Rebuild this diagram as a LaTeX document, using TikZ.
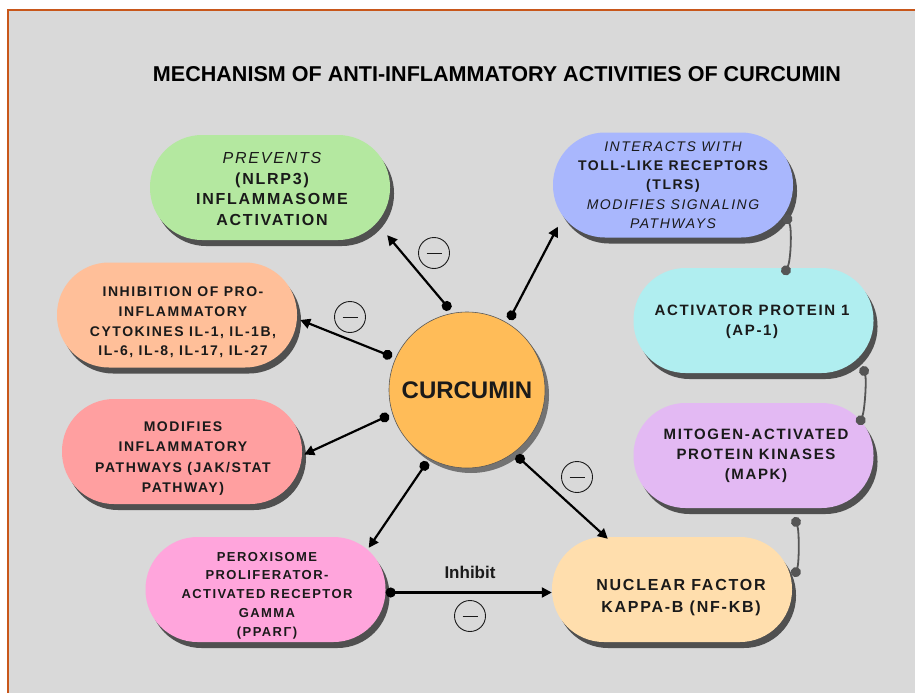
\documentclass[tikz,border=0pt]{standalone}
\usepackage{fontspec}
\usepackage{graphicx}
\setmainfont{Liberation Sans}
\newfontfamily\boxsans[LetterSpace=11]{Liberation Sans}
\usetikzlibrary{arrows.meta,shadows,calc,positioning}

\definecolor{bggray}{HTML}{D9D9D9}
\definecolor{bordercol}{HTML}{C8571B}
\definecolor{inkblack}{HTML}{1A1A1A}
\definecolor{shadowgray}{HTML}{505050}
\definecolor{cascgray}{HTML}{555555}
\definecolor{nlrpgreen}{HTML}{B4E8A0}
\definecolor{tlrblue}{HTML}{A9B7FD}
\definecolor{cytopeach}{HTML}{FFBF99}
\definecolor{jakred}{HTML}{FF9FA0}
\definecolor{pparpink}{HTML}{FFA5DC}
\definecolor{nfkbtan}{HTML}{FFDEAD}
\definecolor{mapklilac}{HTML}{E3B9F3}
\definecolor{apcyan}{HTML}{B0EEF0}
\definecolor{curcorange}{HTML}{FFBC58}

\newcommand{\bxfont}[2]{\boxsans\bfseries\fontsize{#1}{#2}\selectfont}
\newcommand{\itln}[1]{{\mdseries\itshape #1}}

\tikzset{
  pill/.style={rectangle, rounded corners=52pt, minimum width=240pt, minimum height=105pt,
    inner sep=0pt, drop shadow={shadow xshift=4pt, shadow yshift=-6pt, fill=shadowgray, opacity=1}},
  boxtxt/.style={align=center, inner sep=0pt, text=inkblack},
  curlink/.style={line width=2.2pt, draw=black, {Circle[length=10pt]}-{Triangle[length=10pt,width=10pt]}},
  cascade/.style={line width=1.8pt, draw=cascgray, {Circle[length=10pt]}-{Circle[length=10pt]}},
  minussign/.style={circle, draw=inkblack, line width=0.9pt, minimum size=31pt, inner sep=0pt,
    path picture={\draw[line width=1pt] ([xshift=-7.5pt]path picture bounding box.center)
      -- ([xshift=7.5pt]path picture bounding box.center);}}
}

\begin{document}
\begin{tikzpicture}[x=1pt,y=-1pt]
% Background and frame
\useasboundingbox (0,0) rectangle (915,693);
\fill[white] (0,0) rectangle (915,693);
\fill[bggray] (8,10) rectangle (915,693);
\draw[bordercol, line width=2pt] (915,10) -- (8,10) -- (8,693);

% Title
\node[text=black] (title) at (497,74)
  {\resizebox{688pt}{15pt}{\bfseries MECHANISM OF ANTI-INFLAMMATORY ACTIVITIES OF CURCUMIN}};

% Curcumin
\node[circle, minimum size=156pt, inner sep=0pt, outer sep=4pt, fill=curcorange,
  draw=gray!70!black, line width=0.6pt,
  drop shadow={shadow xshift=4pt, shadow yshift=-5pt, fill=gray!90!black, opacity=1},
  font=\bfseries\fontsize{24}{28}\selectfont, text=inkblack] (curc) at (467,390) {CURCUMIN};

% Left column
\node[pill, fill=nlrpgreen] (nlrp) at (270,187.5) {};
\node[boxtxt, font=\bxfont{16}{20.5}] (nlrp-t) at (272,189)
  {\itln{PREVENTS}\\(NLRP3)\\INFLAMMASOME\\ACTIVATION};

\node[pill, fill=cytopeach] (cyto) at (177,315) {};
\node[boxtxt, font=\bxfont{14}{19.7}] (cyto-t) at (183,322.5)
  {INHIBITION OF PRO-\\INFLAMMATORY\\CYTOKINES IL-1, IL-1B,\\IL-6, IL-8, IL-17, IL-27};

\node[pill, fill=jakred] (jak) at (182,451.5) {};
\node[boxtxt, font=\bxfont{14}{20.3}] (jak-t) at (183,458.5)
  {MODIFIES\\INFLAMMATORY\\PATHWAYS (JAK/STAT\\PATHWAY)};

\node[pill, fill=pparpink] (ppar) at (265.5,589.5) {};
\node[boxtxt, font=\bxfont{13}{18.8}] (ppar-t) at (267,595.5)
  {PEROXISOME\\PROLIFERATOR-\\ACTIVATED RECEPTOR\\GAMMA\\(PPARΓ)};

% Right column
\node[pill, fill=tlrblue] (tlr) at (673,185) {};
\node[boxtxt, font=\bxfont{14}{19.2}] (tlr-t) at (673,185)
  {\itln{INTERACTS WITH}\\TOLL-LIKE RECEPTORS\\(TLRS)\\\itln{MODIFIES SIGNALING}\\\itln{PATHWAYS}};

\node[pill, fill=apcyan] (ap1) at (753.5,320.5) {};
\node[boxtxt, font=\bxfont{15}{20}] (ap1-t) at (752,322)
  {ACTIVATOR PROTEIN 1\\(AP-1)};

\node[pill, fill=mapklilac] (mapk) at (753.5,455.5) {};
\node[boxtxt, font=\bxfont{15}{20}] (mapk-t) at (756,456)
  {MITOGEN-ACTIVATED\\PROTEIN KINASES\\(MAPK)};

\node[pill, fill=nfkbtan] (nfkb) at (672,589.5) {};
\node[boxtxt, font=\bxfont{16}{22}] (nfkb-t) at (681,598)
  {NUCLEAR FACTOR\\KAPPA-B (NF-KB)};

% Links from curcumin
\draw[curlink] (curc.102) -- ($(nlrp.south east)+(-3,-5)$);
\draw[curlink] (curc.59) -- ($(tlr.south west)+(5,-11)$);
\draw[curlink] (curc.156) -- ($(cyto.east)+(3,5)$);
\draw[curlink] (curc.198) -- ($(jak.east)+(2,3)$);
\draw[curlink] (curc.241) -- ($(ppar.north east)+(-17,11)$);
\draw[curlink] (curc.307) -- ($(nfkb.north west)+(56,2)$);

% PPAR inhibits NF-KB
\draw[curlink] ([yshift=-3pt]ppar.east) -- ([yshift=-3pt]nfkb.west);
\node[font=\bfseries\fontsize{17}{20}\selectfont, text=inkblack] (inhibit) at (470,572) {Inhibit};

% Signalling cascade
\draw[cascade] ($(tlr.south east)+(-8,-23)$) .. controls +(7,14) and +(7,-14) .. ($(ap1.north east)+(-90,7)$);
\draw[cascade] ($(ap1.south east)+(-11,-7)$) .. controls +(4,14) and +(6,-14) .. ($(mapk.north east)+(-15,22)$);
\draw[cascade] ($(mapk.south west)+(161,9)$) .. controls +(5,14) and +(5,-14) .. ($(nfkb.north east)+(2,40)$);

% Inhibition marks
\node[minussign] (m1) at (434,253) {};
\node[minussign] (m2) at (350,317) {};
\node[minussign] (m3) at (577,477) {};
\node[minussign] (m4) at (470,616) {};
\end{tikzpicture}
\end{document}
